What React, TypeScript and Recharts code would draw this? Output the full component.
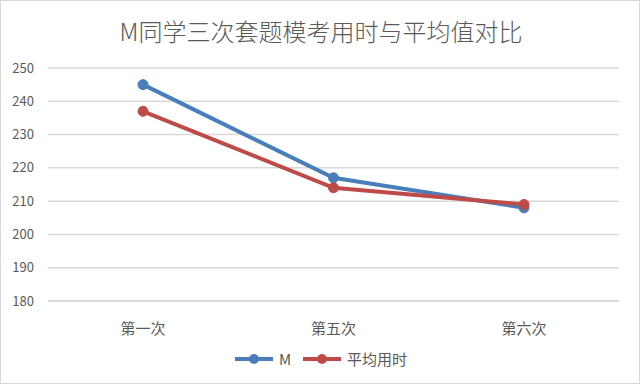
import { CartesianGrid, Line, LineChart, XAxis, YAxis } from "recharts";

const categories = ["第一次", "第五次", "第六次"];
const mValues = [245, 217, 208];
const avgValues = [237, 214, 209];
const yTicks = [180, 190, 200, 210, 220, 230, 240, 250];

const BLUE = "#4a7ebb";
const RED = "#be4b48";
const FONT = "'Noto Sans CJK SC', 'Noto Sans', sans-serif";

const data = categories.map((name, i) => ({
  name,
  m: mValues[i],
  avg: avgValues[i],
}));

const LegendIcon = ({ color }: { color: string }) => (
  <svg width={38} height={12} style={{ display: "block" }}>
    <line x1={0} y1={6} x2={38} y2={6} stroke={color} strokeWidth={4} />
    <circle cx={19} cy={6} r={5} fill={color} />
  </svg>
);

const App = () => {
  return (
    <div
      style={{
        position: "absolute",
        left: 0,
        top: 0,
        width: 640,
        height: 384,
        background: "#fff",
        boxSizing: "border-box",
        border: "1px solid #d9d9d9",
        fontFamily: FONT,
      }}
    >
      <div
        style={{
          position: "absolute",
          top: 12,
          left: 0,
          width: 640,
          textAlign: "center",
          fontSize: 24,
          color: "#595959",
          fontFamily: "'Noto Sans CJK SC', serif",
          fontWeight: 300,
        }}
      >
        M同学三次套题模考用时与平均值对比
      </div>
      <LineChart
        width={638}
        height={382}
        data={data}
        margin={{ top: 67, right: 20, bottom: 52, left: 0 }}
      >
        <CartesianGrid vertical={false} stroke="#d9d9d9" strokeWidth={1.5} />
        <XAxis
          dataKey="name"
          padding={{ left: 95, right: 95 }}
          axisLine={{ stroke: "#d9d9d9", strokeWidth: 1.5 }}
          tickLine={false}
          tickMargin={16}
          tick={{ fill: "#595959", fontSize: 15, fontFamily: FONT }}
        />
        <YAxis
          width={47}
          domain={[180, 250]}
          ticks={yTicks}
          axisLine={false}
          tickLine={false}
          tickMargin={8}
          tick={{ fill: "#595959", fontSize: 13, fontFamily: FONT }}
        />
        <Line
          dataKey="m"
          name="M"
          stroke={BLUE}
          strokeWidth={4}
          dot={{ r: 5, fill: BLUE, stroke: BLUE, strokeWidth: 1 }}
          isAnimationActive={false}
        />
        <Line
          dataKey="avg"
          name="平均用时"
          stroke={RED}
          strokeWidth={4}
          dot={{ r: 5, fill: RED, stroke: RED, strokeWidth: 1 }}
          isAnimationActive={false}
        />
      </LineChart>
      <div
        style={{
          position: "absolute",
          top: 347,
          left: 0,
          width: 640,
          display: "flex",
          justifyContent: "center",
          alignItems: "center",
          gap: 6,
          fontSize: 15,
          color: "#595959",
        }}
      >
        <LegendIcon color={BLUE} />
        <span style={{ marginRight: 6 }}>M</span>
        <LegendIcon color={RED} />
        <span>平均用时</span>
      </div>
    </div>
  );
};

export default App;
